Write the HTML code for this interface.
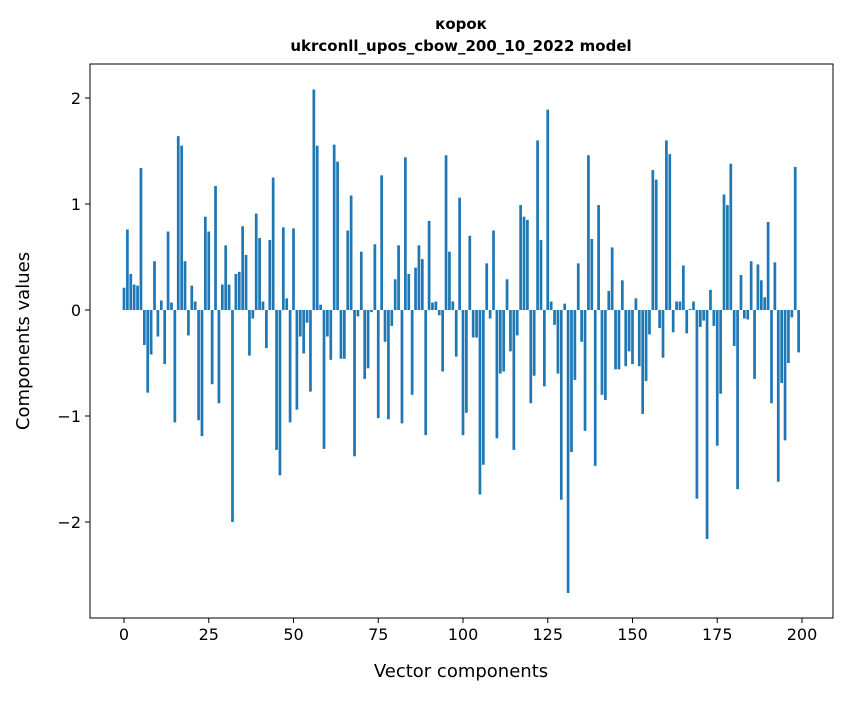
<!DOCTYPE html>
<html><head><meta charset="utf-8"><style>
body{margin:0;background:#fff;}
svg text{font-family:"DejaVu Sans","Liberation Sans",sans-serif;fill:#000;}
</style></head><body>
<svg id="chart" width="847" height="696" xmlns="http://www.w3.org/2000/svg">
<rect width="847" height="696" fill="#fff"/>
<text x="461" y="29" text-anchor="middle" font-size="15" font-weight="bold">корок</text>
<text x="461" y="51" text-anchor="middle" font-size="15" font-weight="bold">ukrconll_upos_cbow_200_10_2022 model</text>
<g id="bars"></g>
<g id="axes"></g>
<text x="461" y="677" text-anchor="middle" font-size="18">Vector components</text>
<text transform="translate(29,341) rotate(-90)" text-anchor="middle" font-size="18">Components values</text>
</svg>
<script>
const values = [0.21,0.76,0.34,0.24,0.23,1.34,-0.33,-0.78,-0.42,0.46,
-0.25,0.09,-0.51,0.74,0.07,-1.06,1.64,1.55,0.46,-0.24,
0.23,0.08,-1.04,-1.19,0.88,0.74,-0.70,1.17,-0.88,0.24,
0.61,0.24,-2.0,0.34,0.36,0.79,0.52,-0.43,-0.08,0.91,
0.68,0.08,-0.36,0.66,1.25,-1.32,-1.56,0.78,0.11,-1.06,
0.77,-0.94,-0.25,-0.41,-0.12,-0.77,2.08,1.55,0.05,-1.31,
-0.25,-0.47,1.56,1.40,-0.46,-0.46,0.75,1.08,-1.38,-0.06,
0.55,-0.65,-0.55,-0.02,0.62,-1.02,1.27,-0.30,-1.03,-0.15,
0.29,0.61,-1.07,1.44,0.34,-0.80,0.40,0.61,0.48,-1.18,
0.84,0.07,0.08,-0.05,-0.58,1.46,0.55,0.08,-0.44,1.06,
-1.18,-0.97,0.70,-0.26,-0.26,-1.74,-1.46,0.44,-0.08,0.75,
-1.21,-0.60,-0.58,0.29,-0.39,-1.32,-0.24,0.99,0.88,0.85,
-0.88,-0.62,1.60,0.66,-0.72,1.89,0.08,-0.14,-0.60,-1.79,
0.06,-2.67,-1.34,-0.66,0.44,-0.30,-1.14,1.46,0.67,-1.47,
0.99,-0.80,-0.85,0.18,0.59,-0.56,-0.56,0.28,-0.53,-0.39,
-0.51,0.11,-0.53,-0.98,-0.67,-0.23,1.32,1.23,-0.17,-0.45,
1.60,1.47,-0.21,0.08,0.08,0.42,-0.22,0.01,0.08,-1.78,
-0.16,-0.10,-2.16,0.19,-0.15,-1.28,-0.79,1.09,0.99,1.38,
-0.34,-1.69,0.33,-0.08,-0.09,0.46,-0.65,0.43,0.28,0.12,
0.83,-0.88,0.45,-1.62,-0.69,-1.23,-0.50,-0.07,1.35,-0.40];
const xTicks = [0,25,50,75,100,125,150,175,200];
const yTicks = [-2,-1,0,1,2];
const yTickLabels = ["\u22122","\u22121","0","1","2"];

const L=90,R=833,T=64,B=618;
const X0=124, XS=3.39, Y0=310, YS=106;
function xs(v){return X0+v*XS;}
function ys(v){return Y0-v*YS;}
const NS="http://www.w3.org/2000/svg";
const bars=document.getElementById('bars');
values.forEach((v,i)=>{
  const r=document.createElementNS(NS,'rect');
  const y1=ys(Math.max(v,0)), y2=ys(Math.min(v,0));
  r.setAttribute('x',xs(i-0.4));
  r.setAttribute('width',0.8*XS);
  r.setAttribute('y',y1);
  r.setAttribute('height',Math.max(y2-y1,0.3));
  r.setAttribute('fill','#1f77b4');
  
  
  bars.appendChild(r);
});
const axes=document.getElementById('axes');
const frame=document.createElementNS(NS,'rect');
frame.setAttribute('x',L);frame.setAttribute('y',T);
frame.setAttribute('width',R-L);frame.setAttribute('height',B-T);
frame.setAttribute('fill','none');frame.setAttribute('stroke','#000');frame.setAttribute('stroke-width','1');


axes.appendChild(frame);
xTicks.forEach(t=>{
  const x=xs(t);
  const l=document.createElementNS(NS,'line');
  l.setAttribute('x1',x);l.setAttribute('x2',x);l.setAttribute('y1',B);l.setAttribute('y2',B+5);
  l.setAttribute('stroke','#000');
  
  
  axes.appendChild(l);
  const tx=document.createElementNS(NS,'text');
  tx.setAttribute('x',x);tx.setAttribute('y',B+22);tx.setAttribute('text-anchor','middle');tx.setAttribute('font-size','16');
  tx.textContent=t;
  
  
  axes.appendChild(tx);
});
yTicks.forEach((t,i)=>{
  const y=ys(t);
  const l=document.createElementNS(NS,'line');
  l.setAttribute('x1',L-5);l.setAttribute('x2',L);l.setAttribute('y1',y);l.setAttribute('y2',y);
  l.setAttribute('stroke','#000');
  
  
  axes.appendChild(l);
  const tx=document.createElementNS(NS,'text');
  tx.setAttribute('x',L-9);tx.setAttribute('y',y+6);tx.setAttribute('text-anchor','end');tx.setAttribute('font-size','16');
  tx.textContent=yTickLabels[i];
  
  
  axes.appendChild(tx);
});
</script>
</body></html>
